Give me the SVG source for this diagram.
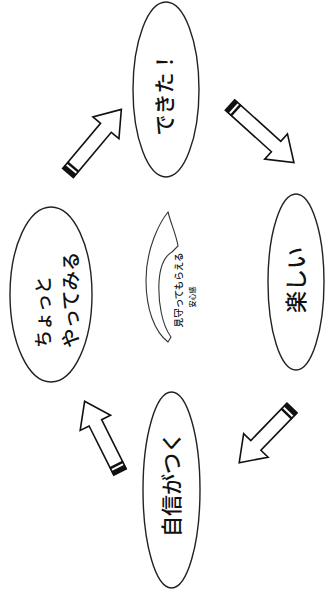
<svg xmlns="http://www.w3.org/2000/svg" width="325" height="598" viewBox="0 0 325 598">
<style>
.node ellipse{fill:#fff;stroke:#222;stroke-width:1.4}
.lbl{font-family:"Noto Sans CJK JP","Noto Sans CJK SC",sans-serif;fill:#111;dominant-baseline:central;font-weight:500}
.arr{fill:#fff;stroke:#111;stroke-width:1.6;stroke-linejoin:miter}
.band{fill:#111}
.curve{fill:#fff;stroke:#333;stroke-width:1.1}
</style>
<rect width="325" height="598" fill="#fff"/>
<g id="connectors">
  <g id="arrow-a" transform="translate(68,173) rotate(-50)">
    <polygon class="arr" points="0,-7 59,-7 59,-17 83,0 59,17 59,7 0,7"/>
    <rect class="band" x="0" y="-7.5" width="4.5" height="15"/>
    <rect class="band" x="6.5" y="-7.5" width="2.5" height="15"/>
  </g>
  <g id="arrow-b" transform="translate(230,105) rotate(42)">
    <polygon class="arr" points="0,-7 62,-7 62,-17 86,0 62,17 62,7 0,7"/>
    <rect class="band" x="0" y="-7.5" width="4.5" height="15"/>
    <rect class="band" x="6.5" y="-7.5" width="2.5" height="15"/>
  </g>
  <g id="arrow-c" transform="translate(292,408) rotate(134)">
    <polygon class="arr" points="0,-7 52,-7 52,-17 76,0 52,17 52,7 0,7"/>
    <rect class="band" x="0" y="-7.5" width="4.5" height="15"/>
    <rect class="band" x="6.5" y="-7.5" width="2.5" height="15"/>
  </g>
  <g id="arrow-d" transform="translate(120,472) rotate(-116.6)">
    <polygon class="arr" points="0,-7 55,-7 55,-17 79,0 55,17 55,7 0,7"/>
    <rect class="band" x="0" y="-7.5" width="4.5" height="15"/>
    <rect class="band" x="6.5" y="-7.5" width="2.5" height="15"/>
  </g>
</g>
<g id="node-dekita" class="node">
  <ellipse cx="166" cy="89.5" rx="33" ry="87.5"/>
  <text class="lbl" transform="translate(163,93.5) rotate(-90)" text-anchor="middle" font-size="21">できた！</text>
</g>
<g id="node-tanoshii" class="node">
  <ellipse cx="296" cy="282" rx="28" ry="88"/>
  <text class="lbl" transform="translate(294,280) rotate(-90)" text-anchor="middle" font-size="22">楽しい</text>
</g>
<g id="node-chotto" class="node">
  <ellipse cx="51" cy="294.5" rx="41" ry="87.5"/>
  <text class="lbl" transform="translate(42,348) rotate(-90)" font-size="18">ちょっと</text>
  <text class="lbl" transform="translate(69,348) rotate(-90)" font-size="19.5">やってみる</text>
</g>
<g id="node-jishin" class="node">
  <ellipse cx="171.5" cy="490" rx="28.5" ry="98"/>
  <text class="lbl" transform="translate(170,484.5) rotate(-90)" text-anchor="middle" font-size="21">自信がつく</text>
</g>
<g id="center">
  <path class="curve" d="M168,212 C160,222 146,248 146,280 C146,310 155,332 168,342 L171,337 C162,325 158,302 159,282 C160,266 165,256 172,252 L178,246 C176,234 171,224 168,212 Z"/>
  <text class="lbl" transform="translate(178,290) rotate(-90)" text-anchor="middle" font-size="9.5" font-weight="bold">見守ってもらえる</text>
  <text class="lbl" transform="translate(192,297) rotate(-90)" text-anchor="middle" font-size="7" font-weight="bold">安心感</text>
</g>
</svg>
